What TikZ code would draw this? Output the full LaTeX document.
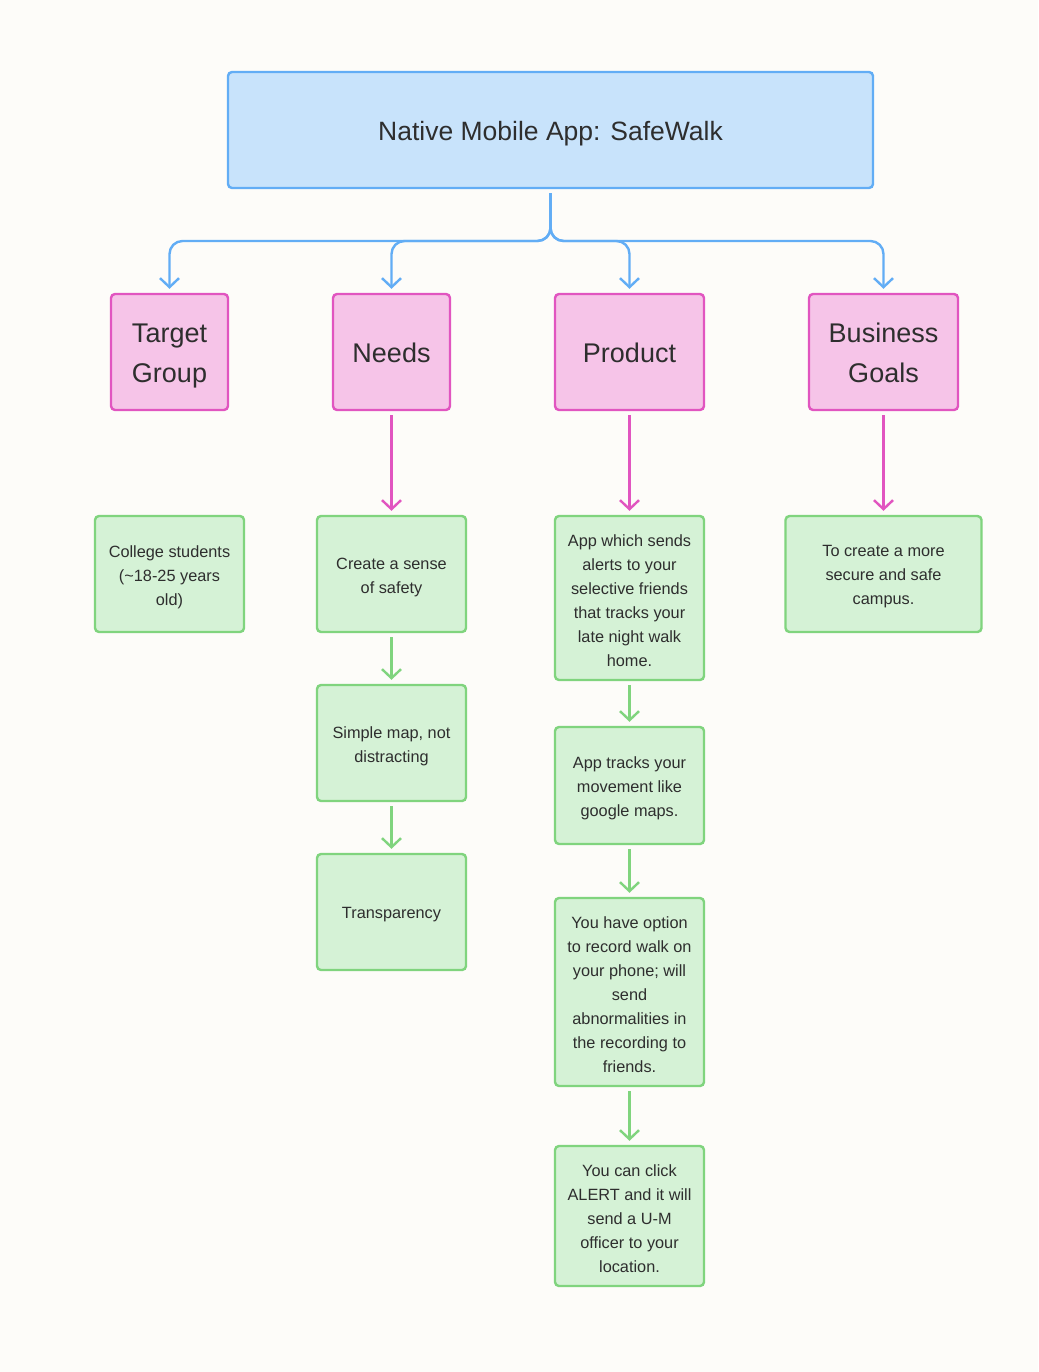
\documentclass[tikz,border=0pt]{standalone}
\usepackage{fontspec}
\setmainfont{Liberation Sans}
\usetikzlibrary{arrows.meta}
\definecolor{bg}{HTML}{FDFCF9}
\definecolor{txt}{HTML}{2E2E2E}
\definecolor{tfill}{HTML}{C8E3FB}
\definecolor{tline}{HTML}{62ADF5}
\definecolor{pfill}{HTML}{F6C4E8}
\definecolor{pline}{HTML}{E155C0}
\definecolor{gfill}{HTML}{D5F2D6}
\definecolor{gline}{HTML}{80D47E}
\begin{document}
\begin{tikzpicture}[x=1pt,y=-1pt,
  box/.style={draw, rounded corners=4pt, line width=2.4pt, inner sep=0pt},
  titlebox/.style={box, fill=tfill, draw=tline},
  pinkbox/.style={box, fill=pfill, draw=pline, minimum height=116pt},
  greenbox/.style={box, fill=gfill, draw=gline, minimum width=149pt},
  ttext/.style={align=center, text=txt, yshift=-4pt, font=\fontsize{26.5}{30}\selectfont},
  ptext/.style={align=center, text=txt, yshift=-1pt, font=\fontsize{27}{40}\selectfont},
  gtext/.style={align=center, text=txt, yshift=-3pt, font=\fontsize{16.3}{24}\selectfont},
  conn/.style={line width=2.4pt, -{Straight Barb[length=9pt,width=19pt,line width=2.4pt]}, shorten >=4pt, shorten <=4pt},
]
\fill[bg] (0,0) rectangle (1038,1372);
\useasboundingbox (0,0) rectangle (1038,1372);

\node[titlebox, minimum width=645pt, minimum height=116pt,
  label={[ttext]center:{Native Mobile App: SafeWalk}}] (title) at (550.5,130) {};

\node[pinkbox, minimum width=117pt, label={[ptext, yshift=-3pt]center:{Target\\Group}}] (tg) at (169.5,352) {};
\node[pinkbox, minimum width=117pt, label={[ptext]center:{Needs}}] (needs) at (391.5,352) {};
\node[pinkbox, minimum width=149pt, label={[ptext]center:{Product}}] (prod) at (629.5,352) {};
\node[pinkbox, minimum width=149pt, label={[ptext]center:{Business\\Goals}}] (bg) at (883.5,352) {};

\node[greenbox, minimum height=116pt, label={[gtext]center:{College students\\(\textasciitilde18-25 years\\old)}}] (college) at (169.5,574) {};
\node[greenbox, minimum height=116pt, label={[gtext]center:{Create a sense\\of safety}}] (create) at (391.5,574) {};
\node[greenbox, minimum height=116pt, label={[gtext]center:{Simple map, not\\distracting}}] (map) at (391.5,743) {};
\node[greenbox, minimum height=116pt, label={[gtext]center:{Transparency}}] (transp) at (391.5,912) {};

\node[greenbox, minimum height=164pt, label={[gtext]center:{App which sends\\alerts to your\\selective friends\\that tracks your\\late night walk\\home.}}] (app) at (629.5,598) {};
\node[greenbox, minimum height=117pt, label={[gtext]center:{App tracks your\\movement like\\google maps.}}] (tracks) at (629.5,785.5) {};
\node[greenbox, minimum height=188pt, label={[gtext]center:{You have option\\to record walk on\\your phone; will\\send\\abnormalities in\\the recording to\\friends.}}] (record) at (629.5,992) {};
\node[greenbox, minimum height=140pt, label={[gtext]center:{You can click\\ALERT and it will\\send a U-M\\officer to your\\location.}}] (alert) at (629.5,1216) {};

\node[greenbox, minimum width=196pt, minimum height=116pt, label={[gtext]center:{To create a more\\secure and safe\\campus.}}] (goal) at (883.5,574) {};

\coordinate (hub) at (550.5,241);
\foreach \t in {tg,needs,prod,bg}
  \draw[conn, tline, rounded corners=13pt] (title.south) -- (hub) -| (\t.north);

\draw[conn, pline] (needs) -- (create);
\draw[conn, pline] (prod) -- (app);
\draw[conn, pline] (bg) -- (goal);

\draw[conn, gline] (create) -- (map);
\draw[conn, gline] (map) -- (transp);
\draw[conn, gline] (app) -- (tracks);
\draw[conn, gline] (tracks) -- (record);
\draw[conn, gline] (record) -- (alert);
\end{tikzpicture}
\end{document}
